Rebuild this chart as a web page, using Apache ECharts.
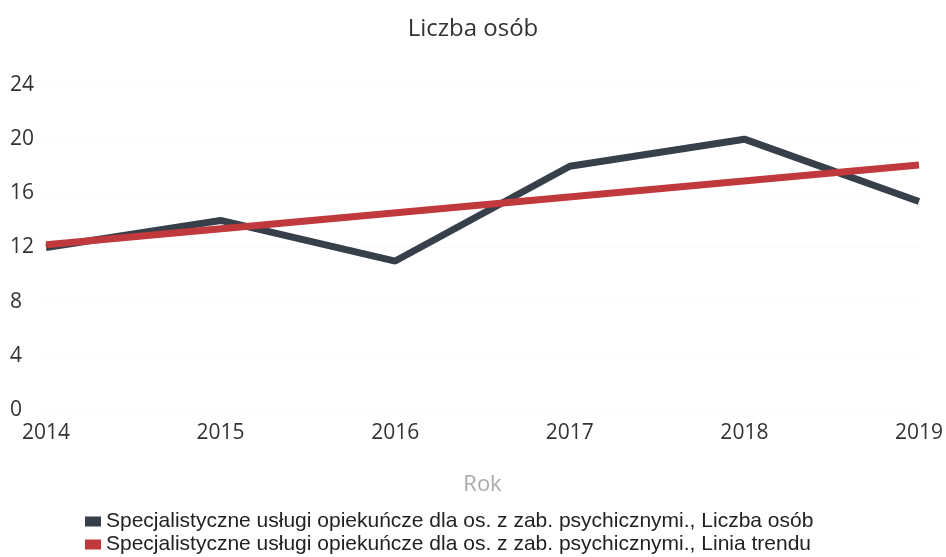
<!DOCTYPE html>
<html>
<head>
<meta charset="utf-8">
<script src="https://cdn.jsdelivr.net/npm/echarts@6/dist/echarts.min.js"></script>
<style>
	html, body { margin: 0; padding: 0; background: #fff; }
	#chart { width: 946px; height: 557px; }
</style>
</head>
<body>
<div id="chart"></div>
<script>
// dane
var years = [2014, 2015, 2016, 2017, 2018, 2019];
var liczbaOsob = [12, 14, 11, 18, 20, 15.4];
var trendYears = [2014, 2019];
var trendValues = [12.2, 18.1];
var seriesNames = [
	'Specjalistyczne usługi opiekuńcze dla os. z zab. psychicznymi., Liczba osób',
	'Specjalistyczne usługi opiekuńcze dla os. z zab. psychicznymi., Linia trendu'
];

var myChart = echarts.init(document.getElementById('chart'));
var option = {
	animation: false,
	title: {
		text: 'Liczba osób',
		left: 'center',
		top: 12,
		textStyle: {
			color: '#333',
			fontSize: 24,
			fontWeight: 'normal',
			fontFamily: 'Open Sans'
		}
	},
	legend: {
		orient: 'vertical',
		left: 80,
		top: 506,
		height: 60,
		itemWidth: 16,
		itemHeight: 10,
		itemGap: 2,
		icon: 'rect',
		textStyle: {
			color: '#222',
			fontSize: 21,
			fontFamily: 'Liberation Sans'
		},
		data: seriesNames
	},
	grid: {
		left: 46,
		right: 24,
		top: 85,
		bottom: 147
	},
	xAxis: {
		type: 'value',
		min: 2014,
		max: 2019,
		interval: 1,
		name: 'Rok',
		nameLocation: 'middle',
		nameGap: 64,
		nameTextStyle: {
			color: '#aaa',
			fontSize: 22,
			fontFamily: 'Open Sans'
		},
		axisLine: { show: false },
		axisTick: { show: false },
		splitLine: { show: false },
		axisLabel: {
			color: '#333',
			fontSize: 21,
			fontFamily: 'Open Sans',
			margin: 13,
			formatter: function (v) { return String(v); }
		}
	},
	yAxis: {
		type: 'value',
		min: 0,
		max: 24,
		interval: 4,
		axisLine: { show: false },
		axisTick: { show: false },
		splitLine: { lineStyle: { color: '#fafafa' } },
		axisLabel: {
			color: '#333',
			fontSize: 21,
			fontFamily: 'Open Sans',
			align: 'left',
			margin: 36
		}
	},
	series: [
		{
			name: seriesNames[0],
			type: 'line',
			symbol: 'none',
			color: '#363f4a',
			lineStyle: { width: 7, color: '#363f4a' },
			data: years.map(function (y, i) { return [y, liczbaOsob[i]]; })
		},
		{
			name: seriesNames[1],
			type: 'line',
			symbol: 'none',
			color: '#c0393c',
			lineStyle: { width: 7, color: '#c0393c' },
			data: trendYears.map(function (y, i) { return [y, trendValues[i]]; })
		}
	]
};
myChart.setOption(option);
</script>
</body>
</html>
